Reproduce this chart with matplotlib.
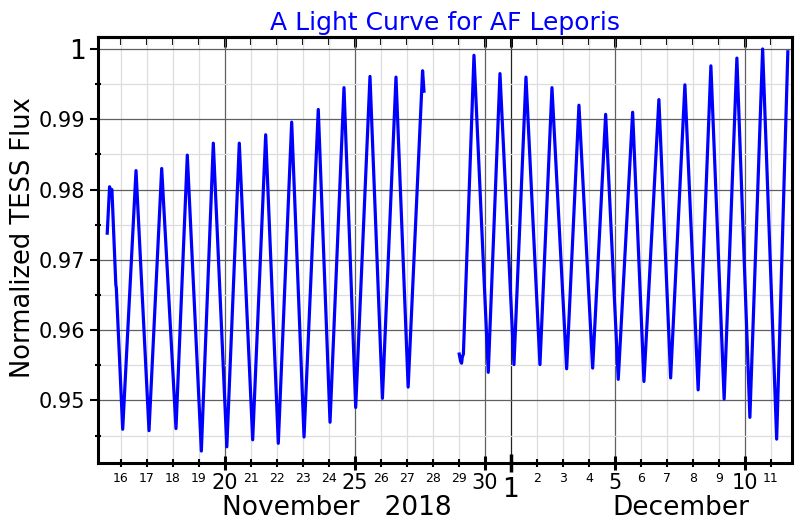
import matplotlib
matplotlib.use('Agg')
import matplotlib.pyplot as plt
import matplotlib.transforms as mtransforms
from matplotlib.ticker import MultipleLocator

# light curve: day of November 2018 (Dec 1 = 31), normalized flux
# first orbit
days_1 = [15.47, 15.56, 15.61, 15.65, 15.80, 15.82, 16.065,
          16.577, 17.077, 17.565, 18.115, 18.55, 19.09, 19.55, 20.07,
          20.55, 21.065, 21.565, 22.05, 22.565, 23.04, 23.588, 24.04,
          24.577, 25.027, 25.577, 26.055, 26.577, 27.045, 27.60, 27.654]
flux_1 = [0.9738, 0.9804, 0.9797, 0.9800, 0.9665, 0.9660, 0.9459,
          0.9827, 0.9457, 0.9830, 0.9460, 0.9849, 0.9428, 0.9866, 0.9434,
          0.9866, 0.9444, 0.9878, 0.9439, 0.9896, 0.9448, 0.9914, 0.9469,
          0.9945, 0.9490, 0.9961, 0.9503, 0.9960, 0.9519, 0.9969, 0.9940]

# second orbit
days_2 = [29.01, 29.06, 29.10, 29.13, 29.17,
          29.577, 30.127, 30.577, 31.115, 31.577, 32.115, 32.577, 33.142,
          33.615, 34.142, 34.642, 35.127, 35.68, 36.115, 36.69, 37.142,
          37.69, 38.20, 38.69, 39.20, 39.69, 40.19, 40.68, 41.22, 41.65]
flux_2 = [0.9566, 0.9556, 0.9553, 0.9562, 0.9566,
          0.9991, 0.9540, 0.9965, 0.9551, 0.9960, 0.9551, 0.9945, 0.9545,
          0.9920, 0.9546, 0.9907, 0.9530, 0.9910, 0.9527, 0.9928, 0.9532,
          0.9949, 0.9515, 0.9976, 0.9502, 0.9987, 0.9476, 1.0000, 0.9445, 0.9996]

major_days = [20, 25, 30, 31, 35, 40]
major_labels = ['20', '25', '30', '1', '5', '10']
minor_days = [16, 17, 18, 19, 21, 22, 23, 24, 26, 27, 28, 29,
              32, 33, 34, 36, 37, 38, 39, 41]
minor_labels = ['16', '17', '18', '19', '21', '22', '23', '24', '26', '27', '28', '29',
                '2', '3', '4', '6', '7', '8', '9', '11']

flux_ticks = [0.95, 0.96, 0.97, 0.98, 0.99, 1.0]
flux_labels = ['0.95', '0.96', '0.97', '0.98', '0.99', '1']

fig = plt.figure(figsize=(8, 5.2), dpi=100)
ax = fig.add_axes([0.1225, 0.1096, 0.8675, 0.8192])

ax.plot(days_1, flux_1, color='blue', lw=2.3, solid_joinstyle='round')
ax.plot(days_2, flux_2, color='blue', lw=2.3, solid_joinstyle='round')

ax.set_xlim(15.115, 41.81)
ax.set_ylim(0.9411, 1.0017)

ax.set_xticks(major_days, major_labels, fontsize=15)
ax.set_xticks(minor_days, minor_labels, minor=True, fontsize=9)
ax.set_yticks(flux_ticks, flux_labels, fontsize=15)
ax.yaxis.set_minor_locator(MultipleLocator(0.005))

ax.set_axisbelow(True)
ax.grid(which='major', color='#606060', lw=0.9)
ax.grid(which='minor', color='#dddddd', lw=0.9)

ax.tick_params(axis='x', which='major', direction='inout', length=9.5, width=2.2, pad=2.5)
ax.tick_params(axis='x', which='minor', direction='inout', length=6, width=1.5, pad=3.5)
ax.tick_params(axis='y', which='major', direction='out', length=6, width=1.5, pad=3)
ax.tick_params(axis='y', which='minor', direction='inout', length=5, width=1.5)
for s in ax.spines.values():
    s.set_linewidth(2.2)

# Dec 1 gets the biggest tick and label
dec1 = ax.xaxis.get_major_ticks()[3]
dec1.set_pad(5.3)
dec1.tick1line.set_markersize(13)
dec1.tick1line.set_markeredgewidth(2.5)
dec1.label1.set_fontsize(19)
dec1.gridline.set_color('#222222')

ax.yaxis.get_major_ticks()[-1].label1.set_fontsize(19)

# inward ticks along the top
top = ax.secondary_xaxis('top')
top.set_xticks(major_days)
top.set_xticks(minor_days, minor=True)
top.tick_params(which='both', direction='in', labeltop=False)
top.tick_params(which='major', length=7, width=2.2)
top.tick_params(which='minor', length=6, width=1.5)
top.spines['top'].set_linewidth(2.2)

trans = mtransforms.blended_transform_factory(ax.transData, ax.transAxes)
ax.text(24.31, -0.122, 'November   2018', transform=trans, ha='center', va='baseline', fontsize=19)
ax.text(37.54, -0.122, 'December', transform=trans, ha='center', va='baseline', fontsize=19)

ax.set_ylabel('Normalized TESS Flux', fontsize=18.5)
ax.yaxis.set_label_coords(-0.09, 0.53)
ax.set_title('A Light Curve for AF Leporis', color='blue', fontsize=18, pad=5)

fig.savefig('out.png', dpi=100)
